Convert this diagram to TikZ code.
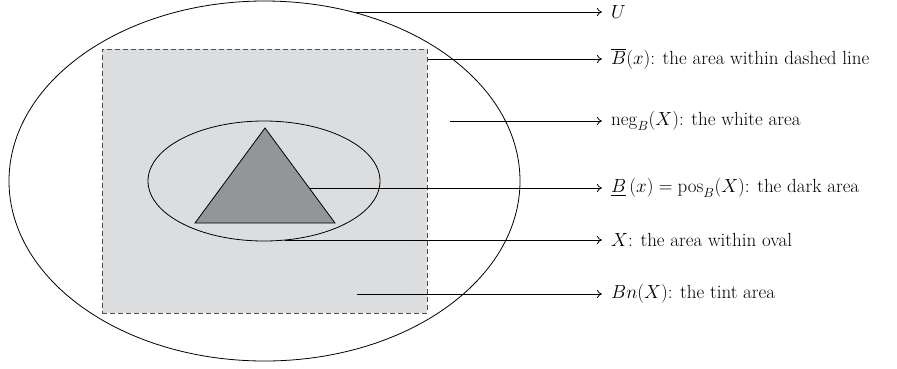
\RequirePackage{fix-cm}
\documentclass[tikz,border=0pt]{standalone}
\usepackage{amsmath}
\usetikzlibrary{arrows.meta,positioning,shapes.geometric,calc}
\definecolor{tintgray}{HTML}{DCDDDF}
\definecolor{darkgray}{HTML}{939598}
\tikzset{
region/.style={draw,ellipse,line width=.8pt,inner sep=0pt},
upperbox/.style={draw=black!70,dash pattern=on 5pt off 3pt,fill=tintgray,line width=1pt,inner sep=0pt},
lowerset/.style={draw,fill=darkgray,line width=.8pt,line join=miter},
pointer/.style={-{To[length=5pt,width=8pt]},line width=.8pt},
legend/.style={anchor=west,inner ysep=4pt,inner xsep=9pt,font=\fontsize{19}{23}\selectfont}
}

\begin{document}
\begin{tikzpicture}[x=1pt,y=-1pt]
\useasboundingbox (0,0) rectangle (897,368);
% the sets
\node[region,minimum width=511pt,minimum height=360pt](universe) at (264.5,181){};
\node[upperbox,minimum width=325pt,minimum height=264pt](upper) at (264.5,181){};
\node[region,minimum width=232pt,minimum height=120pt](oval) at (264,181){};
\coordinate (apex) at (265,128);
\coordinate (baseL) at (195,223);
\coordinate (baseR) at (335,223);
\draw[lowerset] (apex)--(baseR)--(baseL)--cycle;
% where the pointers start
\coordinate (fromU) at (356,12);
\coordinate (fromUpper) at (upper.east |- 0,59);
\coordinate (fromNeg) at (450,121);
\coordinate (fromPos) at (310,188);
\coordinate (fromX) at (285,240);
\coordinate (fromBn) at (357,294);
% legend
\node[legend](labU) at (602,12){$U$};
\node[legend](labUpper) at (602,59){$\overline{B}(x)$: the area within dashed line};
\node[legend](labNeg) at (602,121){$\mathrm{neg}_B(X)$: the white area};
\node[legend](labPos) at (602,188){$\underline{B}\,(x)=\mathrm{pos}_B(X)$: the dark area};
\node[legend](labX) at (602,240){$X$: the area within oval};
\node[legend](labBn) at (602,294){$Bn(X)$: the tint area};
\draw[pointer](fromU)--(fromU -| labU.west);
\draw[pointer](fromUpper)--(fromUpper -| labUpper.west);
\draw[pointer](fromNeg)--(fromNeg -| labNeg.west);
\draw[pointer](fromPos)--(fromPos -| labPos.west);
\draw[pointer](fromX)--(fromX -| labX.west);
\draw[pointer](fromBn)--(fromBn -| labBn.west);
\end{tikzpicture}
\end{document}
